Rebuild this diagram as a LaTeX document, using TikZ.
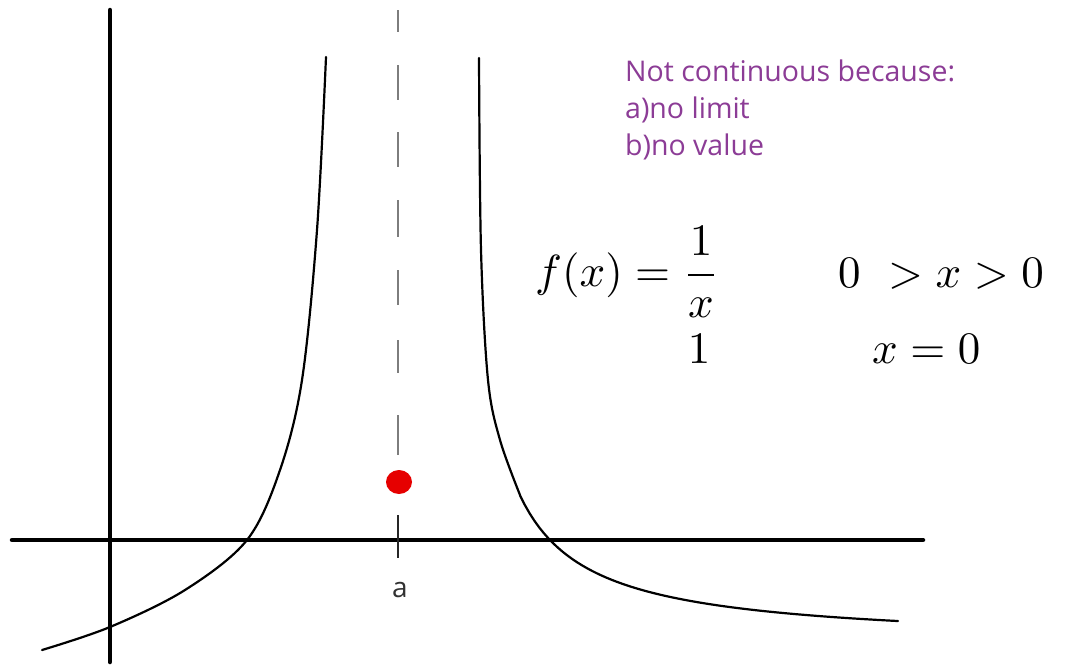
\documentclass[tikz,border=0pt]{standalone}
\usepackage{fontspec}
\usepackage{graphicx}
\newfontfamily\notefont{Open Sans}
\definecolor{notecol}{RGB}{140,60,150}
\definecolor{dashcol}{RGB}{125,125,125}
\definecolor{dotred}{RGB}{230,0,0}
\definecolor{labcol}{RGB}{50,50,50}
\begin{document}
\begin{tikzpicture}[x=1pt,y=-1pt,
  axisline/.style={line width=4.5pt, line cap=round},
  curveline/.style={line width=2.2pt, line cap=round, line join=round},
  dashseg/.style={line width=2.6pt, color=dashcol},
  tickline/.style={line width=2.6pt, color=black!85},
  note/.style={font=\notefont\fontsize{28.5}{37}\selectfont, text=notecol, anchor=base west, inner sep=0pt},
  alabel/.style={font=\notefont\fontsize{28}{30}\selectfont, text=labcol, anchor=base, inner sep=0pt},
  formula/.style={inner sep=0pt}]
\useasboundingbox[fill=white] (0,0) rectangle (1081,664);
% axes
\coordinate (xl) at (12,540);
\coordinate (xr) at (923,540);
\coordinate (yt) at (110,10);
\coordinate (yb) at (110,662);
\draw[axisline] (xl) -- (xr);
\draw[axisline] (yt) -- (yb);
% dashed asymptote
\foreach \ya/\yb in {10/32, 65/100, 132/167, 200/237, 270/305, 340/373, 415/455}{
  \draw[dashseg] (398,\ya) -- (398,\yb);
}
\coordinate (tt) at (398,515);
\coordinate (tb) at (398,558);
\draw[tickline] (tt) -- (tb);
% left branch
\draw[curveline] plot[smooth, tension=0.55] coordinates {(42,650) (110,627) (185,590) (247,540) (280,470) (302,380) (317,230) (326,57)};
% right branch
\draw[curveline] plot[smooth, tension=0.55] coordinates {(479,58) (481,250) (488,380) (500,440) (520,495)}
  -- plot[domain=520:898, samples=80] (\x, {644.3 - 10427/(\x-450)});
% red point
\fill[dotred] (399,482) ellipse [x radius=13, y radius=12];
% label a
\node[alabel] (alab) at (400,597) {a};
% note
\node[note] (n1) at (625,81) {Not continuous because:};
\node[note] (n2) at (625,118) {a)no limit};
\node[note] (n3) at (625,155) {b)no value};
% formula
\node[formula, anchor=west] (f1) at (535,272) {\scalebox{4.5}{$\displaystyle f(x)=\frac{1}{x}$}};
\node[formula, anchor=base] (f2) at (699,363) {\scalebox{4.5}{$1$}};
\node[formula, anchor=base west] (c1) at (838,287) {\scalebox{4.5}{$0\ > x > 0$}};
\node[formula, anchor=base west] (c2) at (872,363) {\scalebox{4.5}{$x = 0$}};
\end{tikzpicture}
\end{document}
